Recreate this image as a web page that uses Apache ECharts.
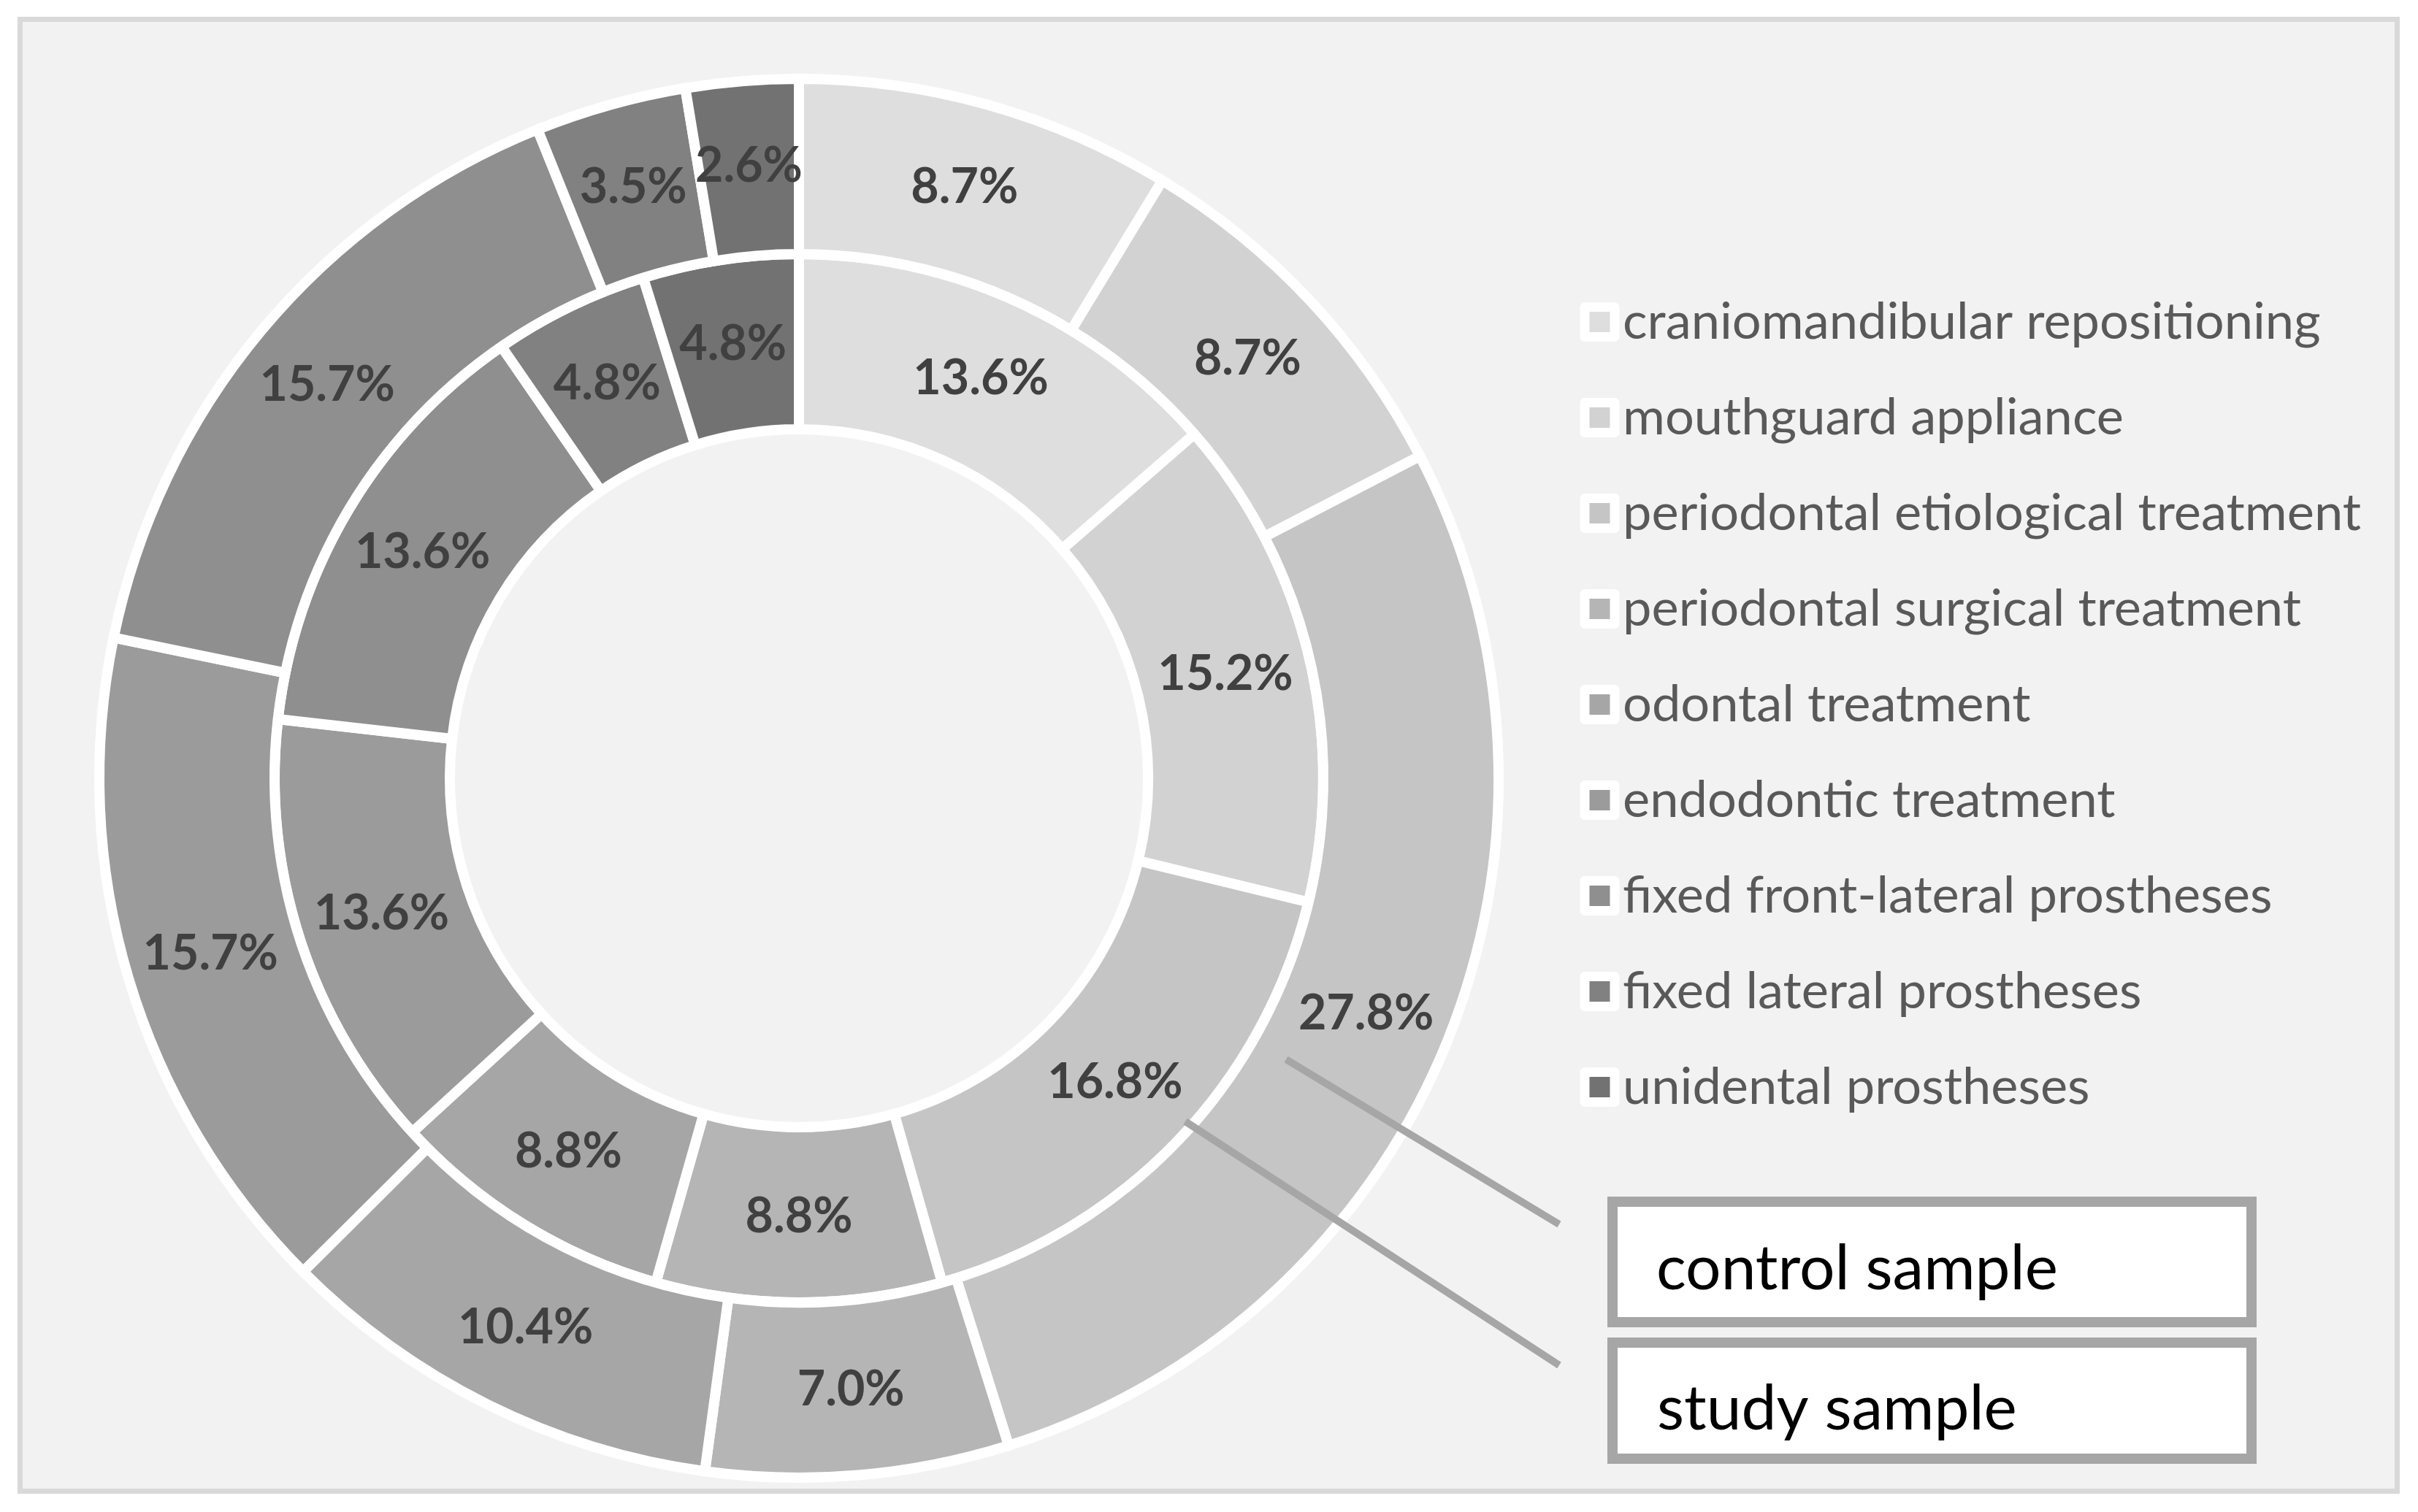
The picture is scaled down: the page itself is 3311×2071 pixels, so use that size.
<!DOCTYPE html>
<html>
<head>
<meta charset="utf-8">
<script src="https://cdn.jsdelivr.net/npm/echarts@6/dist/echarts.min.js"></script>
<style>
  html, body { margin: 0; padding: 0; background: #ffffff; }
  #chart { width: 3311px; height: 2071px; }
</style>
</head>
<body>
<div id="chart"></div>
<script>
// ---- data ----
const categories = [
  'craniomandibular repositioning',
  'mouthguard appliance',
  'periodontal etiological treatment',
  'periodontal surgical treatment',
  'odontal treatment',
  'endodontic treatment',
  'fixed front-lateral prostheses',
  'fixed lateral prostheses',
  'unidental prostheses'
];
const studySample   = [13.6, 15.2, 16.8, 8.8, 8.8, 13.6, 13.6, 4.8, 4.8];  // inner ring
const controlSample = [8.7, 8.7, 27.8, 7.0, 10.4, 15.7, 15.7, 3.5, 2.6];   // outer ring
const seriesNames = ['study sample', 'control sample'];

// ---- styling ----
const colors = ['#dedede', '#d2d2d2', '#c5c5c5', '#b5b5b5', '#a6a6a6', '#9b9b9b', '#8f8f8f', '#818181', '#727272'];

const mctx = document.createElement('canvas').getContext('2d');
function fitSize(text, weight, family, target) {
  mctx.font = weight + ' 100px ' + family;
  return 100 * target / mctx.measureText(text).width;
}
const FONT = 'Lato';
const legendFs = fitSize('craniomandibular repositioning', 'normal', FONT, 956);
const labelFs = fitSize('8.8%', 'bold', FONT, 147);
const boxFs = fitSize('control sample', 'normal', FONT, 550);

const CX = 1094, CY = 1066;

function ring(name, values, r0, r1) {
  return {
    name: name,
    type: 'pie',
    center: [CX, CY],
    radius: [r0, r1],
    startAngle: 90,
    clockwise: true,
    avoidLabelOverlap: false,
    animation: false,
    silent: true,
    itemStyle: { borderColor: '#ffffff', borderWidth: 14, borderJoin: 'miter' },
    label: {
      show: true,
      position: 'inside',
      formatter: p => p.value.toFixed(1) + '%',
      fontFamily: FONT,
      fontWeight: 'bold',
      fontSize: labelFs,
      color: '#404040'
    },
    labelLine: { show: false },
    emphasis: { disabled: true },
    data: categories.map((c, i) => ({ name: c, value: values[i] }))
  };
}

const chart = echarts.init(document.getElementById('chart'), null, { renderer: 'canvas', devicePixelRatio: 1 });

const option = {
  backgroundColor: '#ffffff',
  animation: false,
  color: colors,
  legend: {
    orient: 'vertical',
    left: 2163.5,
    top: 406,
    padding: 0,
    itemWidth: 41,
    itemHeight: 41,
    itemGap: 61,
    icon: 'rect',
    selectedMode: false,
    itemStyle: { borderColor: '#ffffff', borderWidth: 13, borderJoin: 'round' },
    textStyle: {
      fontFamily: FONT,
      fontSize: legendFs,
      color: '#595959',
      padding: [0, 0, 0, 6]
    },
    data: categories
  },
  graphic: {
    elements: [
      {
        type: 'rect', z: -10, silent: true,
        shape: { x: 27.5, y: 26.5, width: 3255, height: 2016 },
        style: { fill: '#f2f2f2', stroke: '#d9d9d9', lineWidth: 7 }
      },
      {
        type: 'line', z: 100, silent: true,
        shape: { x1: 1761, y1: 1451, x2: 2135, y2: 1677 },
        style: { stroke: '#a6a6a6', lineWidth: 10 }
      },
      {
        type: 'line', z: 100, silent: true,
        shape: { x1: 1623, y1: 1536, x2: 2135, y2: 1870 },
        style: { stroke: '#a6a6a6', lineWidth: 10 }
      },
      {
        type: 'rect', z: 100, silent: true,
        shape: { x: 2208, y: 1646, width: 875, height: 165 },
        style: { fill: '#ffffff', stroke: '#a6a6a6', lineWidth: 14 }
      },
      {
        type: 'rect', z: 100, silent: true,
        shape: { x: 2208, y: 1839, width: 875, height: 159 },
        style: { fill: '#ffffff', stroke: '#a6a6a6', lineWidth: 14 }
      },
      {
        type: 'text', z: 101, silent: true,
        style: {
          text: seriesNames[1], x: 2268, y: 1764 - 0.3 * boxFs,
          font: 'normal ' + boxFs + 'px ' + FONT, fill: '#000000',
          verticalAlign: 'middle', align: 'left'
        }
      },
      {
        type: 'text', z: 101, silent: true,
        style: {
          text: seriesNames[0], x: 2269, y: 1956 - 0.3 * boxFs,
          font: 'normal ' + boxFs + 'px ' + FONT, fill: '#000000',
          verticalAlign: 'middle', align: 'left'
        }
      }
    ]
  },
  series: [
    ring(seriesNames[0], studySample, 478, 718),
    ring(seriesNames[1], controlSample, 718, 958)
  ]
};
chart.setOption(option);
</script>
</body>
</html>
